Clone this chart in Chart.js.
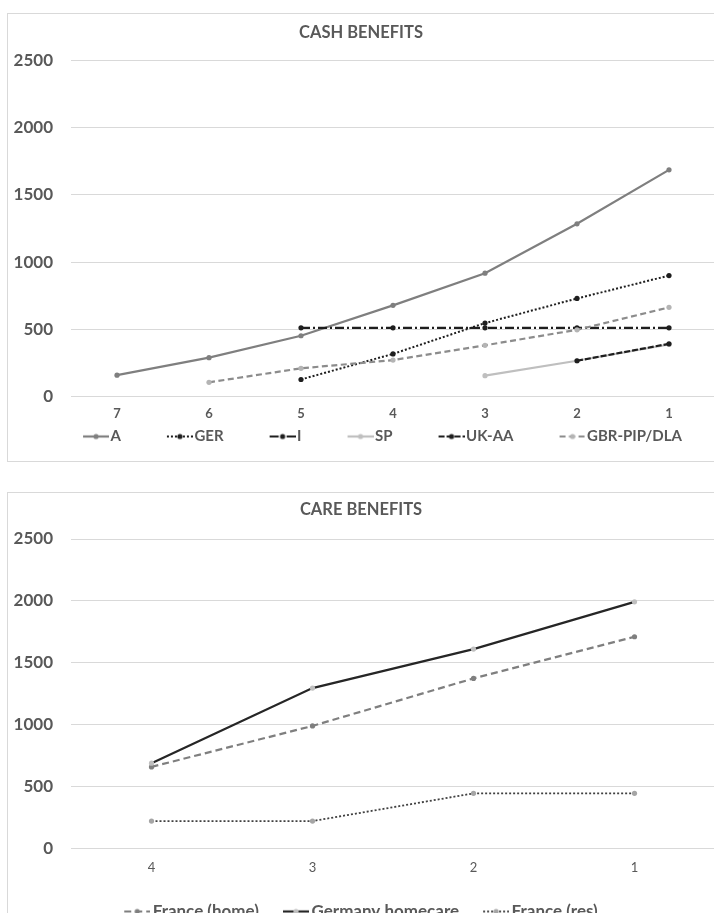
<!DOCTYPE html>
<html>
<head>
<meta charset="utf-8">
<script src="https://cdn.jsdelivr.net/npm/chart.js@4/dist/chart.umd.min.js"></script>
<style>
  html, body { margin: 0; padding: 0; background: #fff; width: 714px; height: 913px; overflow: hidden; }
  .panel { position: absolute; left: 7px; width: 730px; height: 447px; border: 1px solid #d9d9d9; background: #fff; }
  #cashPanel { top: 13px; }
  #carePanel { top: 492px; }
  .panel canvas { position: absolute; left: 0; top: 0; }
</style>
</head>
<body>
<div class="panel" id="cashPanel"><canvas id="cash" width="730" height="447"></canvas></div>
<div class="panel" id="carePanel"><canvas id="care" width="730" height="447"></canvas></div>
<script>
// Shared value axis
const valueTicks = [0, 500, 1000, 1500, 2000, 2500];

// Cash benefits by level
const cashCategories = ['7', '6', '5', '4', '3', '2', '1'];
const cashA      = [160, 290, 453, 679, 918, 1285, 1686];
const cashGER    = [null, null, 128, 318, 547, 730, 900];
const cashI      = [null, null, 512, 512, 512, 512, 512];
const cashSP     = [null, null, null, null, 156, 267, 388];
const cashUKAA   = [null, null, null, null, null, 267, 393];
const cashGBR    = [null, 107, 211, 272, 382, 497, 664];

// Care benefits by level
const careCategories   = ['4', '3', '2', '1'];
const careFranceHome   = [658, 989, 1373, 1710];
const careGermanyHome  = [688, 1295, 1610, 1992];
const careFranceRes    = [220, 220, 444, 444];

const GRID = '#d9d9d9';
const TEXT = '#595959';
const FONT = 'Lato';

function series(label, data, color, dash, width, pointColor) {
  return {
    label, data,
    borderColor: color, borderDash: dash, borderWidth: width,
    pointBackgroundColor: pointColor, pointBorderColor: pointColor,
    pointRadius: 2.6, pointBorderWidth: 0, pointHoverRadius: 2.6,
    tension: 0, fill: false
  };
}

// Small line-with-dot swatch used as the legend marker; it sits at the
// right end of the legend box, just before the label text
function legendMarker(ds, boxW, len) {
  const w = boxW + 12, h = 12;
  const c = document.createElement('canvas');
  c.width = w; c.height = h;
  const g = c.getContext('2d');
  g.strokeStyle = ds.borderColor;
  g.lineWidth = ds.borderWidth;
  g.setLineDash(ds.borderDash || []);
  g.beginPath(); g.moveTo(w - len, h / 2); g.lineTo(w, h / 2); g.stroke();
  g.setLineDash([]);
  g.fillStyle = ds.pointBackgroundColor;
  g.beginPath(); g.arc(w - len / 2, h / 2, 2.6, 0, Math.PI * 2); g.fill();
  return c;
}

function makeChart(id, title, labels, datasets, cfg) {
  const n = datasets.length;
  datasets.forEach((d, i) => { d.order = n - i; });
  return new Chart(document.getElementById(id), {
    type: 'line',
    data: { labels, datasets },
    options: {
      responsive: false, animation: false, devicePixelRatio: 1,
      layout: { padding: { left: cfg.padLeft, right: cfg.padRight, top: 0, bottom: cfg.padBottom } },
      plugins: {
        tooltip: { enabled: false },
        title: {
          display: true, text: title, color: TEXT,
          font: { family: FONT, size: 16.5, weight: 'bold' },
          padding: { top: cfg.titleTop, bottom: cfg.titleBottom }
        },
        legend: {
          position: 'bottom',
          labels: {
            usePointStyle: true, pointStyleWidth: cfg.boxW, boxHeight: 16,
            padding: cfg.legendGap, color: TEXT,
            font: { family: FONT, size: cfg.legendSize, weight: 'bold' },
            generateLabels: chart => chart.data.datasets.map((ds, i) => ({
              text: ds.label, datasetIndex: i, hidden: false,
              fontColor: TEXT, lineWidth: 0,
              pointStyle: legendMarker(ds, cfg.boxW, cfg.markerLen)
            }))
          }
        }
      },
      scales: {
        x: {
          offset: true,
          grid: { display: false, drawTicks: false }, border: { display: false },
          ticks: { color: TEXT, padding: cfg.xPad, font: { family: FONT, size: 13, weight: cfg.xWeight } },
          afterFit: s => { s.height = cfg.xHeight; }
        },
        y: {
          min: 0, max: 2500,
          grid: { color: GRID, lineWidth: 1, drawTicks: false },
          border: { display: false },
          ticks: {
            color: TEXT, padding: 18, font: { family: FONT, size: 17, weight: 'bold' },
            callback: v => String(v)
          },
          afterBuildTicks: s => { s.ticks = valueTicks.map(v => ({ value: v })); },
          afterFit: s => { s.width = cfg.yWidth; }
        }
      }
    }
  });
}

makeChart('cash', 'CASH BENEFITS', cashCategories, [
  series('A',           cashA,    '#7f7f7f', [],            2.2, '#7f7f7f'),
  series('GER',         cashGER,  '#1e1e1e', [2, 2],        2,   '#1e1e1e'),
  series('I',           cashI,    '#1e1e1e', [9, 3, 2, 3],  2.2, '#1e1e1e'),
  series('SP',          cashSP,   '#bfbfbf', [],            2.2, '#bfbfbf'),
  series('UK-AA',       cashUKAA, '#1e1e1e', [6, 2],        2.2, '#1e1e1e'),
  series('GBR-PIP/DLA', cashGBR,  '#8c8c8c', [6, 3.5],      2.2, '#b4b4b4')
], {
  padLeft: -1, padRight: 23, padBottom: 7,
  yWidth: 64, titleTop: 8.6, titleBottom: 17.9,
  xHeight: 29.3, xPad: 9.6, xWeight: 'bold',
  boxW: 63, markerLen: 26, legendGap: 3, legendSize: 15
});

makeChart('care', 'CARE BENEFITS', careCategories, [
  series('France (home)',    careFranceHome,  '#7f7f7f', [7, 4], 2.2, '#7f7f7f'),
  series('Germany homecare', careGermanyHome, '#262626', [],     2.2, '#bfbfbf'),
  series('France (res)',     careFranceRes,   '#404040', [2, 2], 1.8, '#a5a5a5')
], {
  padLeft: -1, padRight: 23, padBottom: 10,
  yWidth: 64, titleTop: 7.1, titleBottom: 19.1,
  xHeight: 30.7, xPad: 12, xWeight: 'normal',
  boxW: 20, markerLen: 26, legendGap: 24, legendSize: 17
});
</script>
</body>
</html>
